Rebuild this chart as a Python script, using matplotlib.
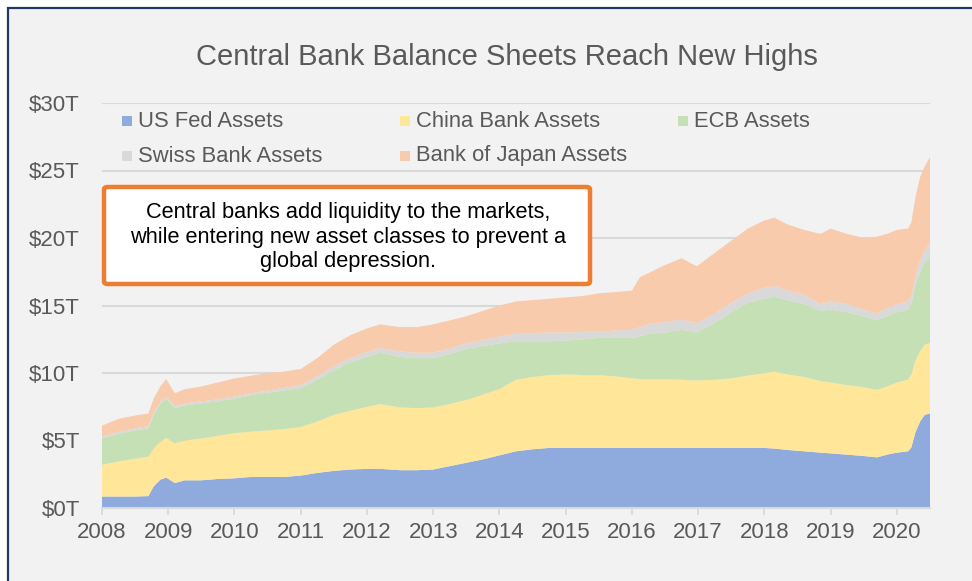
import matplotlib
matplotlib.use("Agg")
import matplotlib.pyplot as plt
from matplotlib.patches import Rectangle, FancyBboxPatch

plt.rcParams['font.family'] = ['Liberation Sans', 'DejaVu Sans']

# ---- data (trillions USD) ----
dates = [2008.00, 2008.25, 2008.50, 2008.70, 2008.78, 2008.88, 2008.97, 2009.10, 2009.25, 2009.50,
         2009.75, 2010.00, 2010.25, 2010.50, 2010.75, 2011.00, 2011.25, 2011.50, 2011.75, 2012.00,
         2012.20, 2012.50, 2012.75, 2013.00, 2013.25, 2013.50, 2013.75, 2014.00, 2014.25, 2014.50,
         2014.75, 2015.00, 2015.25, 2015.50, 2015.75, 2016.00, 2016.12, 2016.25, 2016.50, 2016.75,
         2016.98, 2017.25, 2017.50, 2017.75, 2018.00, 2018.15, 2018.35, 2018.60, 2018.85, 2019.00,
         2019.25, 2019.50, 2019.70, 2019.85, 2020.00, 2020.17, 2020.22, 2020.28, 2020.35, 2020.42,
         2020.50]

us_fed = [0.85, 0.85, 0.85, 0.88, 1.6, 2.1, 2.25, 1.85, 2.05, 2.05,
          2.15, 2.2, 2.3, 2.3, 2.3, 2.4, 2.6, 2.75, 2.85, 2.9,
          2.9, 2.8, 2.8, 2.85, 3.1, 3.35, 3.6, 3.9, 4.2, 4.35,
          4.45, 4.45, 4.45, 4.45, 4.45, 4.45, 4.45, 4.45, 4.45, 4.45,
          4.45, 4.45, 4.45, 4.45, 4.45, 4.4, 4.3, 4.2, 4.1, 4.05,
          3.95, 3.85, 3.75, 3.95, 4.1, 4.2, 4.5, 5.6, 6.4, 6.9,
          7.0]

china = [2.35, 2.6, 2.8, 2.92, 2.8, 2.8, 2.95, 2.95, 2.95, 3.1,
         3.2, 3.35, 3.35, 3.45, 3.55, 3.6, 3.8, 4.15, 4.35, 4.6,
         4.8, 4.65, 4.6, 4.6, 4.6, 4.65, 4.8, 4.9, 5.3, 5.35,
         5.4, 5.45, 5.4, 5.4, 5.3, 5.15, 5.1, 5.1, 5.1, 5.05,
         5.0, 5.05, 5.15, 5.35, 5.55, 5.7, 5.6, 5.5, 5.3, 5.25,
         5.15, 5.1, 5.0, 5.05, 5.2, 5.3, 5.4, 5.3, 5.2, 5.2,
         5.2]

ecb = [1.95, 2.05, 2.1, 2.1, 2.5, 2.8, 2.9, 2.6, 2.6, 2.6,
       2.55, 2.55, 2.7, 2.8, 2.85, 2.9, 3.1, 3.3, 3.6, 3.7,
       3.8, 3.75, 3.7, 3.65, 3.7, 3.8, 3.6, 3.4, 2.85, 2.65,
       2.5, 2.5, 2.65, 2.75, 2.85, 3.0, 3.15, 3.35, 3.45, 3.7,
       3.55, 4.2, 4.9, 5.4, 5.5, 5.55, 5.5, 5.4, 5.2, 5.4,
       5.4, 5.25, 5.15, 5.2, 5.2, 5.2, 5.2, 5.6, 5.9, 6.1,
       6.4]

swiss = [0.15, 0.15, 0.15, 0.15, 0.15, 0.15, 0.15, 0.15, 0.15, 0.15,
         0.15, 0.15, 0.15, 0.15, 0.2, 0.2, 0.25, 0.3, 0.3, 0.35,
         0.35, 0.4, 0.4, 0.4, 0.4, 0.4, 0.45, 0.5, 0.55, 0.6,
         0.65, 0.6, 0.55, 0.45, 0.55, 0.6, 0.7, 0.7, 0.8, 0.75,
         0.7, 0.7, 0.7, 0.7, 0.8, 0.8, 0.7, 0.7, 0.5, 0.6,
         0.6, 0.5, 0.5, 0.6, 0.6, 0.6, 0.6, 0.7, 0.8, 0.9,
         1.0]

boj = [0.8, 0.95, 0.95, 0.95, 1.05, 1.15, 1.3, 0.95, 1.05, 1.1,
       1.25, 1.35, 1.3, 1.3, 1.2, 1.2, 1.35, 1.6, 1.7, 1.75,
       1.75, 1.8, 1.9, 2.1, 2.1, 2.0, 2.15, 2.3, 2.4, 2.45,
       2.5, 2.6, 2.65, 2.85, 2.85, 2.9, 3.7, 3.8, 4.2, 4.55,
       4.2, 4.5, 4.6, 4.8, 5.0, 5.05, 4.9, 4.8, 5.2, 5.4,
       5.2, 5.3, 5.7, 5.5, 5.5, 5.4, 5.5, 5.8, 6.2, 6.2,
       6.4]

series_names = ["US Fed Assets", "China Bank Assets", "ECB Assets",
                "Swiss Bank Assets", "Bank of Japan Assets"]
colors = ["#8faadc", "#ffe699", "#c5e0b4", "#d9d9d9", "#f8cbad"]

year_ticks = list(range(2008, 2021))
y_ticks = [0, 5, 10, 15, 20, 25, 30]
y_labels = ["$0T", "$5T", "$10T", "$15T", "$20T", "$25T", "$30T"]

title = "Central Bank Balance Sheets Reach New Highs"
note = ("Central banks add liquidity to the markets,\n"
        "while entering new asset classes to prevent a\n"
        "global depression.")

# ---- figure ----
W, H = 972, 581
fig = plt.figure(figsize=(W / 100, H / 100), dpi=100)
fig.patch.set_facecolor("white")

def fx(px):
    return px / W

def fy(py):
    return 1 - py / H

# background panel with navy border (left/top visible)
bg = Rectangle((fx(8), -0.2), 2, fy(8) + 0.2, transform=fig.transFigure,
               facecolor="#f2f2f2", edgecolor="#1f3864", linewidth=1.6,
               zorder=-5, clip_on=False)
fig.patches.append(bg)

ax = fig.add_axes([fx(102), fy(508), fx(930) - fx(102), fy(103) - fy(508)])
ax.set_facecolor("none")

ax.stackplot(dates, us_fed, china, ecb, swiss, boj, colors=colors,
             linewidth=0, zorder=2)

ax.set_xlim(2008, 2020.5)
ax.set_ylim(0, 30)
ax.set_yticks(y_ticks)
ax.set_yticklabels(y_labels)
ax.set_xticks(year_ticks)
ax.set_xticklabels([str(y) for y in year_ticks])

ax.grid(axis="y", color="#d9d9d9", linewidth=1.5, zorder=1)
ax.set_axisbelow(True)
for s in ["top", "right", "left"]:
    ax.spines[s].set_visible(False)
ax.spines["bottom"].set_color("#d9d9d9")
ax.spines["bottom"].set_linewidth(1.5)
ax.spines["bottom"].set_zorder(3)

ax.tick_params(axis="y", length=0, pad=16, labelsize=16, labelcolor="#595959")
ax.tick_params(axis="x", length=5, width=1.3, color="#d9d9d9", pad=5,
               labelsize=16, labelcolor="#595959")

# title
fig.text(fx(507), fy(57), title, ha="center", va="center", fontsize=21,
         color="#595959")

# legend (manual layout: 2 rows x 3 columns)
leg_pos = [(122, 121), (400, 121), (678, 121), (122, 156), (400, 156)]
for (lx, ly), name, c in zip(leg_pos, series_names, colors):
    fig.patches.append(Rectangle((fx(lx), fy(ly + 5)), fx(10), 10 / H,
                                 transform=fig.transFigure, facecolor=c,
                                 edgecolor="none", zorder=5))
    fig.text(fx(lx + 16), fy(ly), name, ha="left", va="center",
             fontsize=15.8, color="#595959", zorder=5)

# annotation box
box = FancyBboxPatch((fx(104), fy(284)), fx(590) - fx(104), fy(187) - fy(284),
                     boxstyle="round,pad=0,rounding_size=0.004",
                     transform=fig.transFigure, facecolor="white",
                     edgecolor="#ed7d31", linewidth=3.2, zorder=6)
fig.patches.append(box)
fig.text(fx(348), fy(237), note, ha="center", va="center", fontsize=15.7,
         color="black", linespacing=1.2, zorder=7)

fig.savefig("out.png", dpi=100)
